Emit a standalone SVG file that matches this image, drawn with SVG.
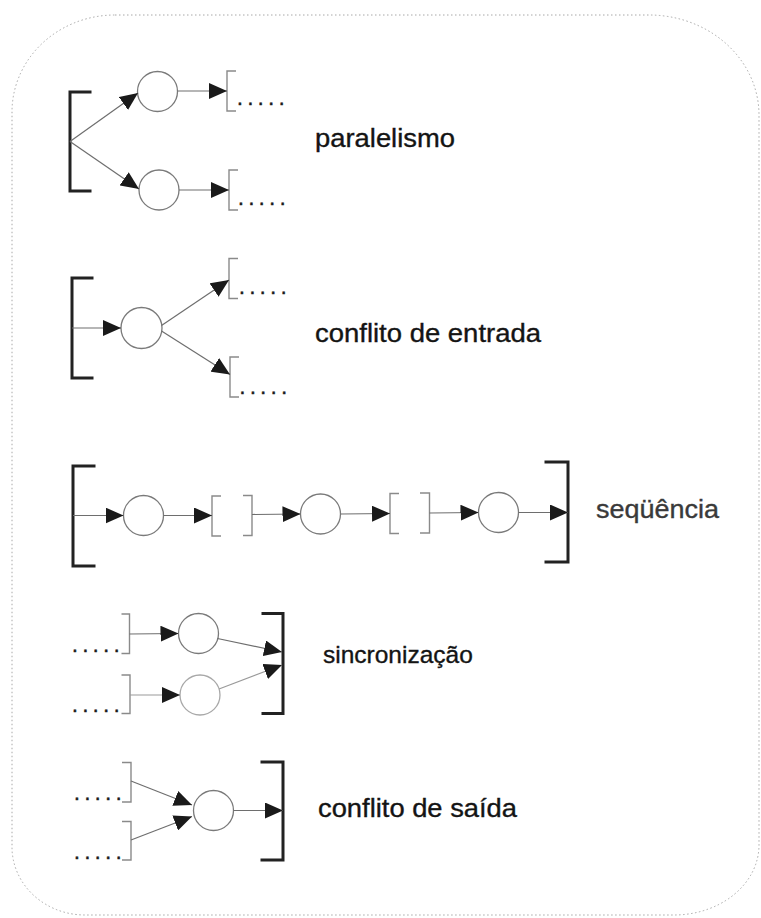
<svg xmlns="http://www.w3.org/2000/svg" width="761" height="918" viewBox="0 0 761 918">
  <style>
    .frame { fill: none; stroke: #a8a8a8; stroke-width: 1; stroke-dasharray: 1.5 2.5; }
    .bar { fill: none; stroke: #222; stroke-width: 3; stroke-linecap: square; }
    .tick { fill: none; stroke: #8a8a8a; stroke-width: 1.4; }
    .place { fill: #fff; stroke: #7a7a7a; stroke-width: 1.3; }
    .place.light { stroke: #a8a8a8; }
    .arc { fill: none; stroke: #6e6e6e; stroke-width: 1.2; marker-end: url(#head); }
    .arc.light { stroke: #9a9a9a; }
    .label { font-family: "Liberation Sans", Arial, sans-serif; font-size: 25px; fill: #141414; stroke: #141414; stroke-width: 0.35px; }
    .label.soft { fill: #3a3a3a; stroke: #3a3a3a; }
    .dots { font-family: "Liberation Sans", Arial, sans-serif; font-size: 21px; fill: #1a1a1a; stroke: #1a1a1a; stroke-width: 0.5px; letter-spacing: 4.6px; }
  </style>
  <defs>
    <marker id="head" markerUnits="userSpaceOnUse" markerWidth="18" markerHeight="16" viewBox="0 0 18 16" refX="18" refY="8" orient="auto">
      <path d="M0,0 L18,8 L0,16 Z" fill="#1a1a1a"/>
    </marker>
  </defs>

  <!-- outer rounded frame -->
  <path class="frame" d="M115,15 H650 A110,100 0 0 1 759,115 V845 A85,70 0 0 1 674,915 H85 A73,68 0 0 1 12,847 V112 A103,97 0 0 1 115,15 Z"/>

  <!-- paralelismo -->
  <g id="par">
    <g id="par-in"><path class="bar" d="M90,92 H70 V191 H90"/></g>
    <g id="par-p1"><circle class="place" cx="157.5" cy="91.5" r="20"/></g>
    <g id="par-p2"><circle class="place" cx="159" cy="190" r="20"/></g>
    <g id="par-out1"><path class="tick" d="M236,71 H227 V111 H236"/><text class="dots" x="237" y="105">.....</text></g>
    <g id="par-out2"><path class="tick" d="M238,170 H229 V210 H238"/><text class="dots" x="238" y="204.5">.....</text></g>
    <text class="label" x="315" y="146.5" textLength="140" lengthAdjust="spacingAndGlyphs">paralelismo</text>
  </g>

  <!-- conflito de entrada -->
  <g id="ent">
    <g id="ent-in"><path class="bar" d="M92,278 H72 V378 H92"/></g>
    <g id="ent-p"><circle class="place" cx="141.5" cy="328" r="20.5"/></g>
    <g id="ent-out1"><path class="tick" d="M238,258.5 H229 V298.5 H238"/><text class="dots" x="239" y="293.5">.....</text></g>
    <g id="ent-out2"><path class="tick" d="M239,357 H230 V397 H239"/><text class="dots" x="239.5" y="394">.....</text></g>
    <text class="label" x="315" y="341.5" textLength="226" lengthAdjust="spacingAndGlyphs">conflito de entrada</text>
  </g>

  <!-- seqüência -->
  <g id="seq">
    <g id="seq-in"><path class="bar" d="M94,466 H73 V566 H94"/></g>
    <g id="seq-p1"><circle class="place" cx="143.5" cy="515.5" r="20"/></g>
    <g id="seq-t1"><path class="tick" d="M221,496 H212 V536 H221"/><path class="tick" d="M243,495.5 H252 V535.5 H243"/></g>
    <g id="seq-p2"><circle class="place" cx="320.5" cy="514" r="20"/></g>
    <g id="seq-t2"><path class="tick" d="M399,493.5 H390 V533.5 H399"/><path class="tick" d="M420,493 H429.5 V533 H420"/></g>
    <g id="seq-p3"><circle class="place" cx="498.5" cy="512.5" r="20"/></g>
    <g id="seq-out"><path class="bar" d="M546,462 H568 V562 H546"/></g>
    <text class="label soft" x="596" y="518" textLength="123" lengthAdjust="spacingAndGlyphs">seqüência</text>
  </g>

  <!-- sincronização -->
  <g id="sync">
    <g id="sync-in1"><path class="tick" d="M121.5,614 H129.5 V653.5 H121.5"/><text class="dots" x="72" y="651.5">.....</text></g>
    <g id="sync-in2"><path class="tick" d="M121.5,675 H130 V713.5 H121.5"/><text class="dots" x="72" y="711.5">.....</text></g>
    <g id="sync-p1"><circle class="place" cx="198.5" cy="633.5" r="20"/></g>
    <g id="sync-p2"><circle class="place light" cx="200" cy="695" r="20"/></g>
    <g id="sync-out"><path class="bar" d="M263,613.5 H283 V713.5 H263"/></g>
    <text class="label" x="323" y="663" style="font-size:24.5px">sincronização</text>
  </g>

  <!-- conflito de saída -->
  <g id="sai">
    <g id="sai-in1"><path class="tick" d="M122,762.5 H131 V802 H122"/><text class="dots" x="74" y="800">.....</text></g>
    <g id="sai-in2"><path class="tick" d="M122,821.5 H131 V860 H122"/><text class="dots" x="74" y="858.5">.....</text></g>
    <g id="sai-p"><circle class="place" cx="213.5" cy="810.5" r="20"/></g>
    <g id="sai-out"><path class="bar" d="M262,762 H283 V860 H262"/></g>
    <text class="label" x="318" y="817" textLength="199" lengthAdjust="spacingAndGlyphs">conflito de saída</text>
  </g>

  <!-- connectors -->
  <g id="arcs">
    <line class="arc" x1="70" y1="141.5" x2="138" y2="93"/>
    <line class="arc" x1="70" y1="141.5" x2="139" y2="189"/>
    <line class="arc" x1="177.5" y1="91" x2="227" y2="91"/>
    <line class="arc" x1="179" y1="190" x2="229" y2="190"/>

    <line class="arc" x1="72" y1="328" x2="121" y2="328"/>
    <line class="arc" x1="161.5" y1="325.5" x2="229" y2="280"/>
    <line class="arc" x1="161.5" y1="331" x2="230" y2="374.5"/>

    <line class="arc" x1="73" y1="515.5" x2="123.5" y2="515.5"/>
    <line class="arc" x1="163.5" y1="515.5" x2="212" y2="515.5"/>
    <line class="arc" x1="252" y1="514.5" x2="300.5" y2="514"/>
    <line class="arc" x1="340.5" y1="514" x2="390" y2="513.5"/>
    <line class="arc" x1="429.5" y1="513" x2="478.5" y2="512.5"/>
    <line class="arc" x1="518.5" y1="512.5" x2="568" y2="512.5"/>

    <line class="arc" x1="129.5" y1="634" x2="178.5" y2="633.5"/>
    <line class="arc light" x1="130" y1="695" x2="180" y2="695"/>
    <line class="arc" x1="217.5" y1="638.5" x2="282" y2="652"/>
    <line class="arc light" x1="219" y1="689" x2="282" y2="665"/>

    <line class="arc" x1="131" y1="781" x2="192" y2="805"/>
    <line class="arc" x1="131" y1="840" x2="192" y2="816.5"/>
    <line class="arc" x1="233.5" y1="810.5" x2="283" y2="810.5"/>
  </g>
</svg>
